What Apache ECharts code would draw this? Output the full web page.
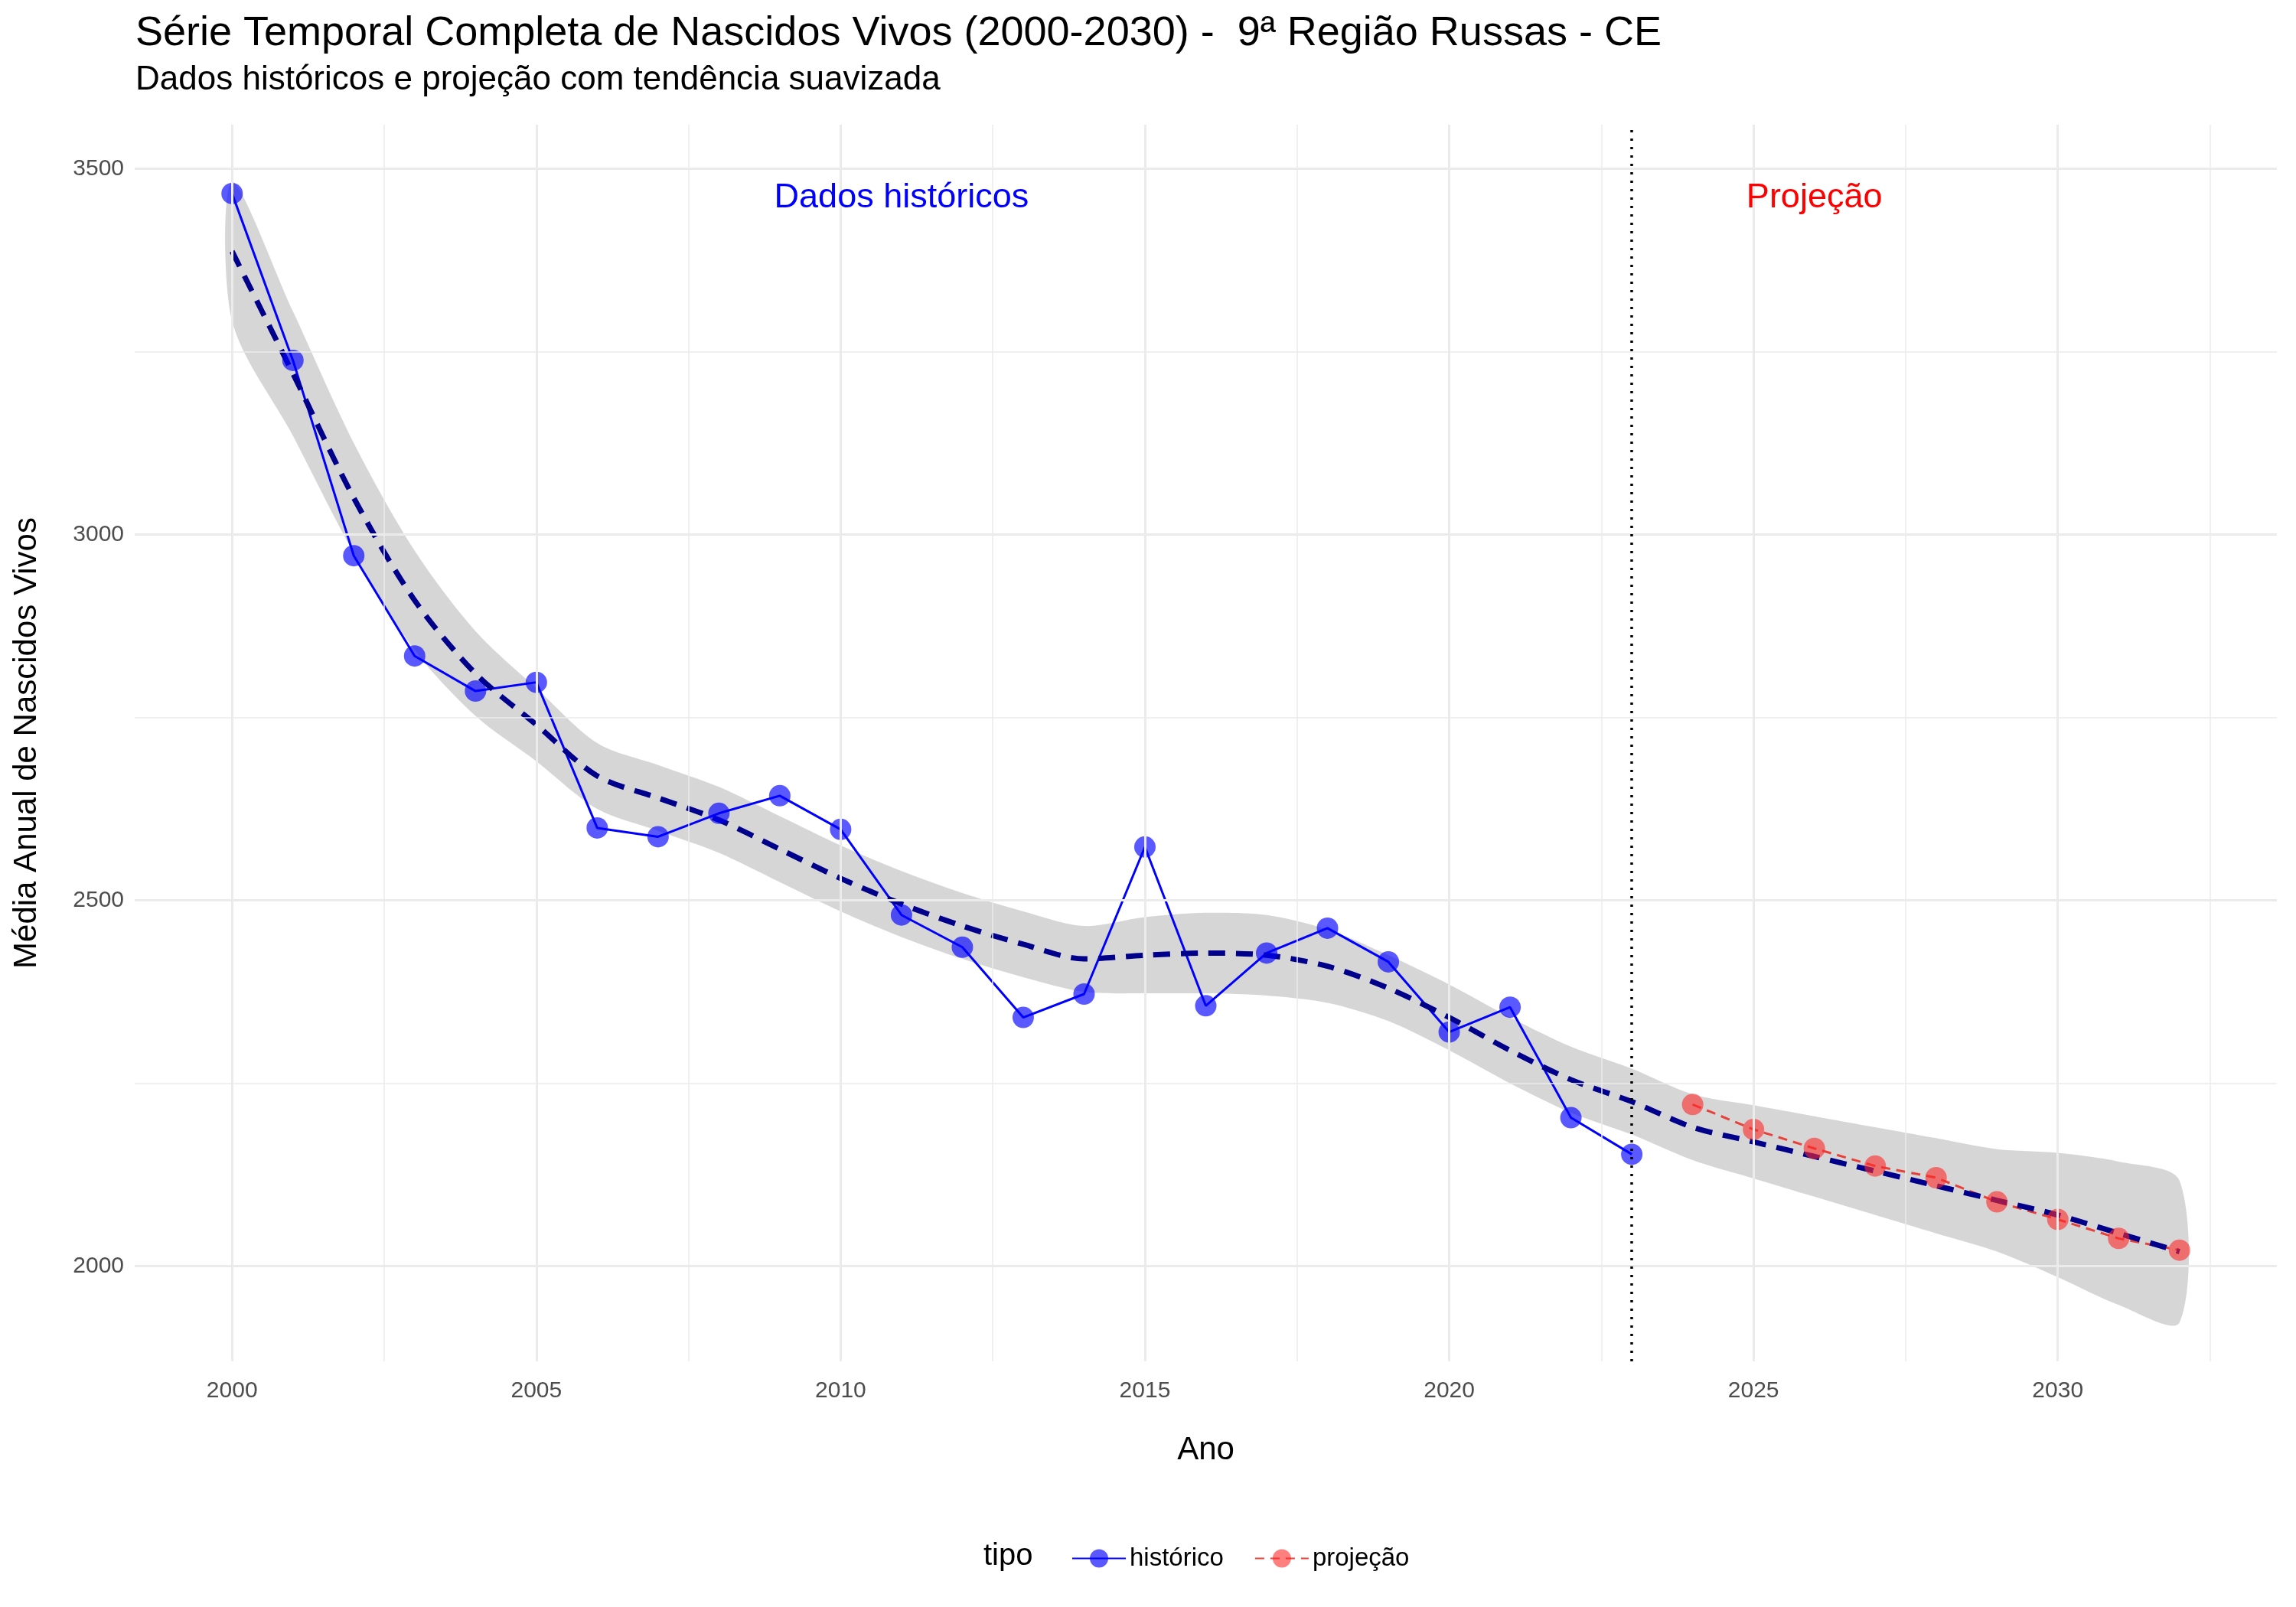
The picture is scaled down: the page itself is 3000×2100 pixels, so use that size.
<!DOCTYPE html>
<html><head><meta charset="utf-8">
<script src="https://cdn.jsdelivr.net/npm/echarts@6/dist/echarts.min.js"></script>
<style>html,body{margin:0;background:#fff}#main{width:3000px;height:2100px}</style>
</head><body><div id="main"></div>
<script>
var anosHist = [2000,2001,2002,2003,2004,2005,2006,2007,2008,2009,2010,2011,2012,2013,2014,2015,2016,2017,2018,2019,2020,2021,2022,2023];
var valoresHist = [3466,3238,2971,2834,2786,2798,2599,2587,2619,2643,2597,2480,2436,2340,2372,2573,2356,2428,2462,2416,2320,2354,2203,2153];
var anosProj = [2024,2025,2026,2027,2028,2029,2030,2031,2032];
var valoresProj = [2221,2187,2161,2137,2121,2088,2064,2038,2022];
var anosTend = [2000,2001,2002,2003,2004,2005,2006,2007,2008,2009,2010,2011,2012,2013,2014,2015,2016,2017,2018,2019,2020,2021,2022,2023,2024,2025,2026,2027,2028,2029,2030,2031,2032];
var tendencia = [3387,3220,3050,2910,2810,2740,2670,2640,2610,2570,2530,2495,2465,2440,2420,2425,2428,2425,2410,2380,2340,2295,2255,2225,2190,2170,2150,2130,2110,2090,2070,2045,2020];
var margem = [95,85,75,68,58,50,45,45,45,45,45,45,45,45,45,52,55,55,50,45,45,45,45,45,45,50,55,60,65,70,85,98,97];
var yGrid = [2000,2250,2500,2750,3000,3250,3500];
var xGrid = [2000,2002.5,2005,2007.5,2010,2012.5,2015,2017.5,2020,2022.5,2025,2027.5,2030,2032.5];

function pares(xs, ys){ return xs.map(function(x,i){ return [x, ys[i]]; }); }

var gridLines = [];
yGrid.forEach(function(v){ gridLines.push({yAxis:v, lineStyle:{width:v%500===0?3:1.5}}); });
xGrid.forEach(function(v){ gridLines.push({xAxis:v, lineStyle:{width:v%5===0?3:1.5}}); });

var option = {
    animation:false,
    textStyle:{fontFamily:"Liberation Sans"},
    title:{
        text:"Série Temporal Completa de Nascidos Vivos (2000-2030) -  9ª Região Russas - CE",
        subtext:"Dados históricos e projeção com tendência suavizada",
        left:172, top:12, itemGap:12,
        textStyle:{fontSize:54, fontWeight:"normal", color:"#000"},
        subtextStyle:{fontSize:44, color:"#000"}
    },
    legend:{
        bottom:42, left:1395, itemWidth:70, itemHeight:30, itemGap:40,
        textStyle:{fontSize:33, color:"#000"},
        data:["histórico","projeção"]
    },
    graphic:[{type:"text", left:1285, bottom:46, style:{text:"tipo", font:"40px Liberation Sans", fill:"#000"}}],
    grid:{left:176, right:25, top:163, bottom:321},
    xAxis:{
        type:"value", min:1998.4, max:2033.6,
        name:"Ano", nameLocation:"middle", nameGap:95,
        nameTextStyle:{fontSize:42, color:"#000"},
        axisLine:{show:false}, axisTick:{show:false}, splitLine:{show:false},
        axisLabel:{fontSize:30, color:"#4d4d4d", margin:24, formatter:function(v){return String(v);},
            customValues:[2000,2005,2010,2015,2020,2025,2030]}
    },
    yAxis:{
        type:"value", min:1870, max:3560,
        name:"Média Anual de Nascidos Vivos", nameLocation:"middle", nameGap:120,
        nameTextStyle:{fontSize:42, color:"#000"},
        axisLine:{show:false}, axisTick:{show:false}, splitLine:{show:false},
        axisLabel:{fontSize:30, color:"#4d4d4d", margin:14, formatter:function(v){return String(v);},
            customValues:[2000,2500,3000,3500]}
    },
    series:[{
        type:"line", silent:true, data:[], symbol:"none",
        markLine:{silent:true, symbol:"none", label:{show:false},
            lineStyle:{color:"#ebebeb", type:"solid"}, data:gridLines}
    },{
        type:"custom", silent:true, data:[0],
        renderItem:function(params, api){
            var pts = [];
            anosTend.forEach(function(a,i){ pts.push(api.coord([a, tendencia[i] + margem[i]])); });
            for (var i = anosTend.length-1; i >= 0; i--) pts.push(api.coord([anosTend[i], tendencia[i] - margem[i]]));
            return {type:"polygon", shape:{points:pts, smooth:0.3}, style:{fill:"rgba(153,153,153,0.4)"}};
        }
    },{
        type:"line", name:"histórico", data:pares(anosHist, valoresHist),
        color:"#0000ff", lineStyle:{width:3, color:"#0000ff"},
        symbol:"circle", symbolSize:28, itemStyle:{color:"rgba(0,0,255,0.65)", borderWidth:0},
        markLine:{silent:true, symbol:"none", label:{show:false},
            lineStyle:{color:"#000", type:[3,8], width:3.5}, data:[{xAxis:2023}]},
        markPoint:{symbol:"circle", symbolSize:1, itemStyle:{color:"transparent"},
            data:[{coord:[2011,3460], label:{show:true, formatter:"Dados históricos", color:"#0000ff", fontSize:45, position:"inside"}},
                  {coord:[2026,3460], label:{show:true, formatter:"Projeção", color:"#ff0000", fontSize:45, position:"inside"}}]}
    },{
        type:"line", name:"projeção", data:pares(anosProj, valoresProj),
        color:"#ff0000", lineStyle:{width:3, type:[12,8], color:"#e8413a"},
        symbol:"circle", symbolSize:28, itemStyle:{color:"rgba(255,40,40,0.6)", borderWidth:0}
    },{
        type:"line", data:pares(anosTend, tendencia), symbol:"none", smooth:0.3,
        lineStyle:{color:"#00008b", width:7, type:[22,14]}
    }]
};
var eChart = echarts.init(document.getElementById("main"));
eChart.setOption(option);
</script></body></html>
